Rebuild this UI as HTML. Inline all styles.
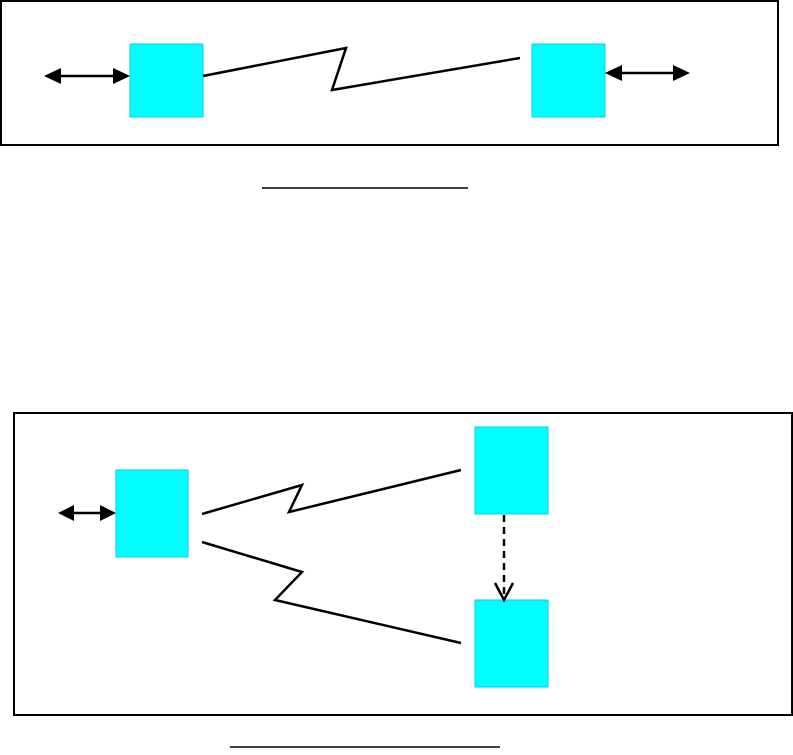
<!DOCTYPE html>
<html><head><style>html,body{margin:0;padding:0;background:#fff}svg{display:block}</style></head><body>
<svg width="793" height="755" viewBox="0 0 793 755" xmlns="http://www.w3.org/2000/svg">
<g fill="none" stroke="#000" stroke-width="2">
<rect x="1" y="1" width="777" height="144"/>
<rect x="14" y="413" width="778" height="302"/>
</g>
<g fill="#00ffff" stroke="#00ccff" stroke-width="1">
<rect x="130" y="44" width="73" height="73"/>
<rect x="532" y="44" width="73" height="73"/>
<rect x="116" y="470" width="72" height="87"/>
<rect x="475" y="427" width="73" height="87"/>
<rect x="475" y="600" width="73" height="87"/>
</g>
<g stroke="#000" stroke-width="2.5" fill="none">
<line x1="60" y1="76" x2="114" y2="76"/>
<path d="M44,76 L61,68 L61,84z M130,76 L113,68 L113,84z" fill="#000" stroke="none"/>
<line x1="621" y1="73" x2="674" y2="73"/>
<path d="M605,73 L622,65 L622,81z M690,73 L673,65 L673,81z" fill="#000" stroke="none"/>
<polyline points="203,76 346,48 332,90 520,58"/>
<line x1="72" y1="513" x2="102" y2="513"/>
<path d="M58,513 L74,505 L74,521z M116,513 L100,505 L100,521z" fill="#000" stroke="none"/>
<polyline points="202,514 302,485 289,512 461,470"/>
<polyline points="202,542 302,572 275,600 461,643"/>
<line x1="504" y1="515" x2="504" y2="599" stroke-dasharray="7,5"/>
<polyline points="495,583 504,600 513,583"/>
<line x1="262" y1="188" x2="468" y2="188" stroke-width="1.5"/>
<line x1="230" y1="747" x2="500" y2="747" stroke-width="1.5"/>
</g>
</svg>
</body></html>
